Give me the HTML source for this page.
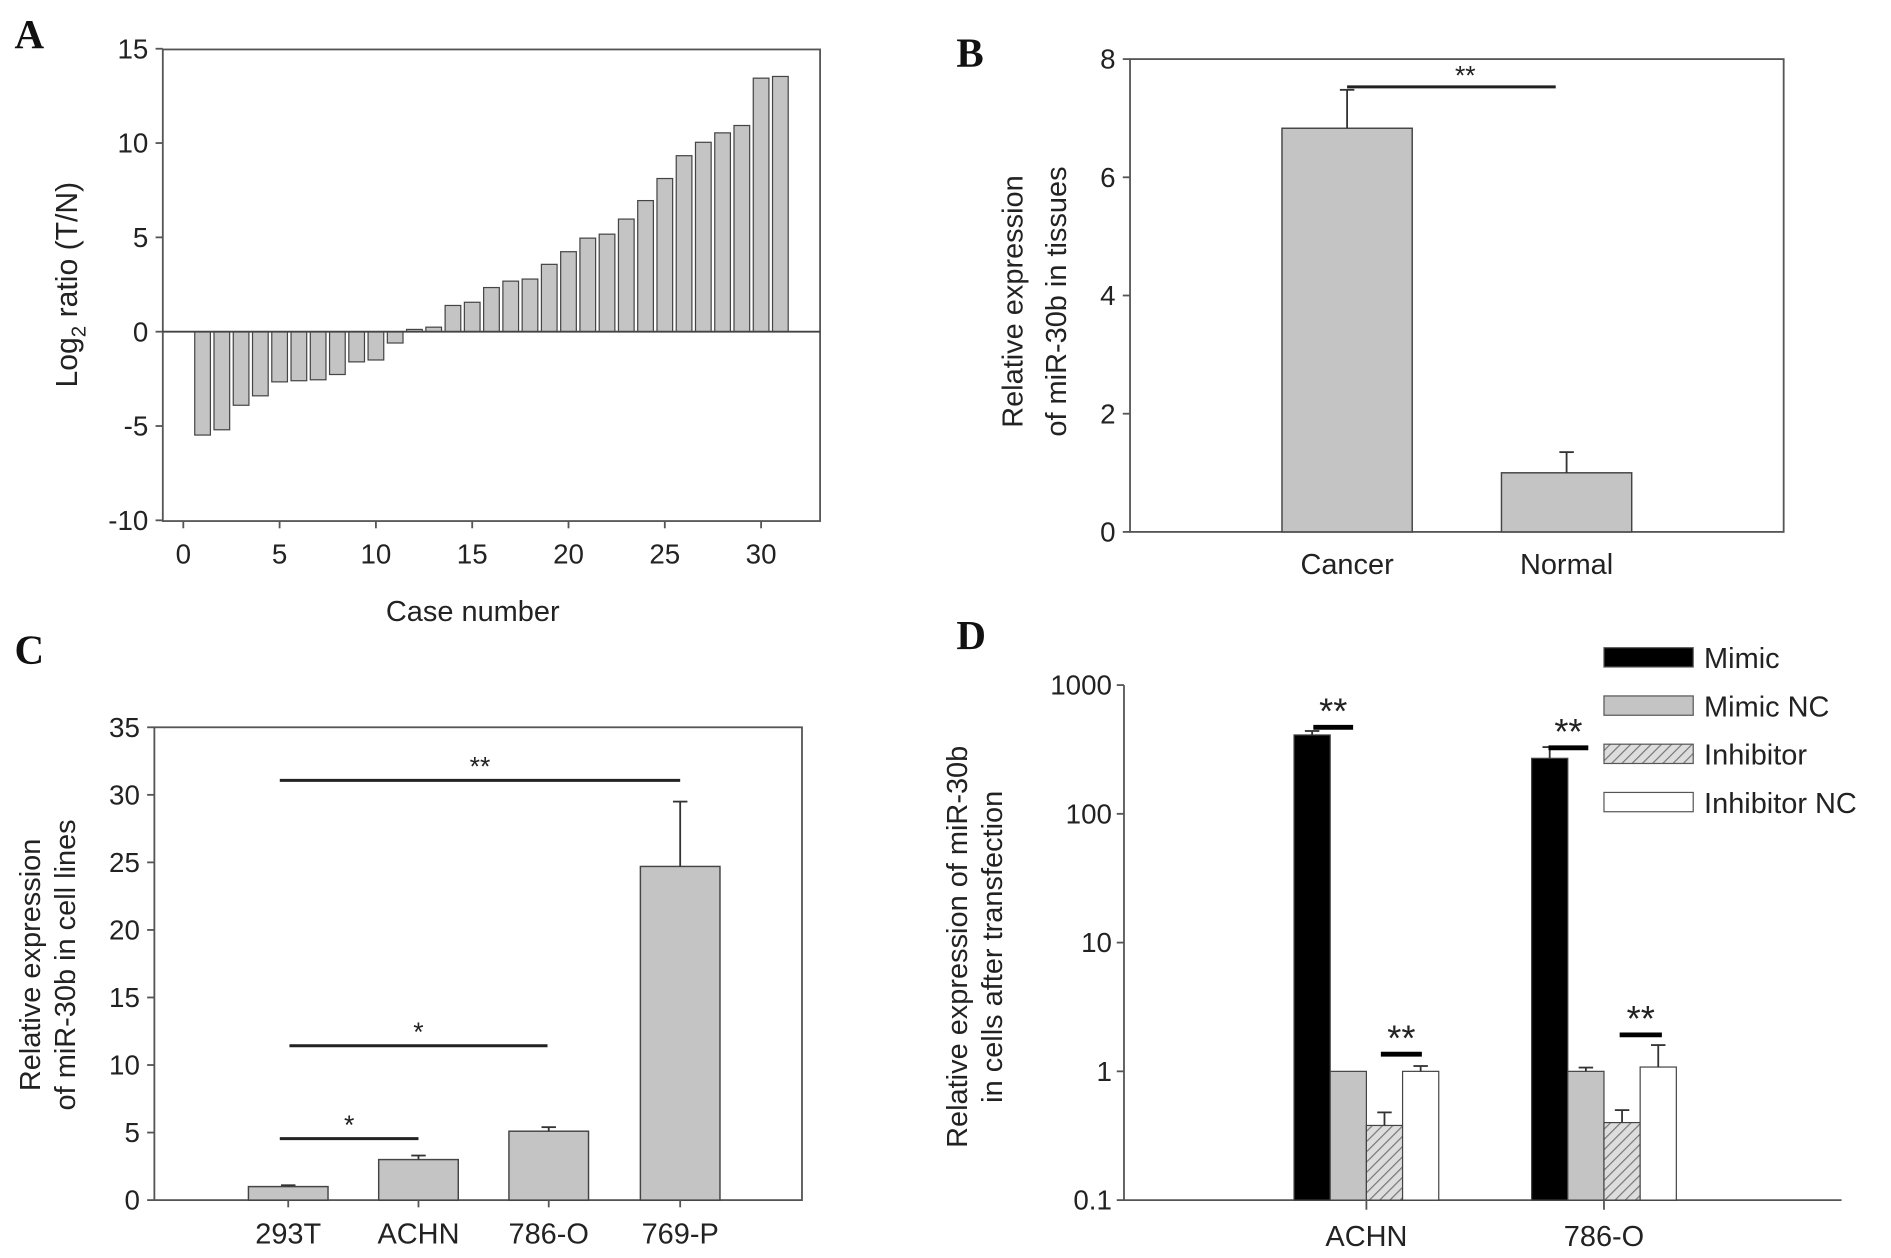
<!DOCTYPE html>
<html><head><meta charset="utf-8"><style>
html,body{margin:0;padding:0;background:#fff}
svg{display:block}
text{font-family:"Liberation Sans",Arial,sans-serif;fill:#222}
.lbl{font-family:"Liberation Serif",serif;font-weight:bold;fill:#111}
</style></head><body>
<svg id="fig" width="1891" height="1258" viewBox="0 0 1568 1043" preserveAspectRatio="none" xmlns="http://www.w3.org/2000/svg">
<defs>
<pattern id="hatch" width="6" height="6" patternUnits="userSpaceOnUse" patternTransform="rotate(45)">
<rect width="6" height="6" fill="#ddd"/><line x1="0" y1="0" x2="0" y2="6" stroke="#777" stroke-width="2"/>
</pattern>
</defs>
<text class="lbl" x="12" y="40" font-size="34">A</text>
<text class="lbl" x="793" y="55" font-size="34">B</text>
<text class="lbl" x="12" y="550" font-size="34">C</text>
<text class="lbl" x="793" y="538" font-size="34">D</text>
<g id="A"></g>
<g id="B"></g>
<g id="C"></g>
<g id="D"></g>
</svg>
<script>
// Panel A data
const aValues = [-5.48,-5.2,-3.9,-3.4,-2.66,-2.6,-2.55,-2.27,-1.6,-1.5,-0.6,0.12,0.24,1.39,1.56,2.34,2.68,2.79,3.57,4.24,4.96,5.17,5.97,6.95,8.12,9.33,10.04,10.54,10.93,13.44,13.53];
const aYTicks = [15,10,5,0,-5,-10];
const aXTicks = [0,5,10,15,20,25,30];
// Panel B data
const bCategories = ['Cancer','Normal'];
const bValues = [6.83,1.0];
const bErrors = [0.65,0.35];
const bYTicks = [0,2,4,6,8];
// Panel C data
const cCategories = ['293T','ACHN','786-O','769-P'];
const cValues = [1.0,3.0,5.1,24.7];
const cErrors = [0.1,0.3,0.3,4.8];
const cYTicks = [0,5,10,15,20,25,30,35];
// Panel D data
const dGroups = ['ACHN','786-O'];
const dSeries = ['Mimic','Mimic NC','Inhibitor','Inhibitor NC'];
const dMimic = [410,270];
const dMimicNC = [1.0,1.0];
const dInhibitor = [0.38,0.40];
const dInhibitorNC = [1.0,1.08];
const dMimicErr = [440,330];
const dMimicNCErr = [1.0,1.07];
const dInhibitorErr = [0.48,0.5];
const dInhibitorNCErr = [1.1,1.6];
const dYTicks = [0.1,1,10,100,1000];

const NS='http://www.w3.org/2000/svg';
function add(parent, tag, attrs, name, inter){
  const el=document.createElementNS(NS,tag);
  for(const k in attrs) el.setAttribute(k,attrs[k]);
  
  
  parent.appendChild(el); return el;
}
function txt(parent,x,y,s,size,anchor,name,extra){
  const t=add(parent,'text',Object.assign({x:x,y:y,'font-size':size,'text-anchor':anchor||'middle'},extra||{}),name,false);
  t.textContent=s; return t;
}
function errbar(g,x,y1,y2,name){
  add(g,'line',{x1:x,y1:y1,x2:x,y2:y2,stroke:'#333','stroke-width':1.5},name);
  add(g,'line',{x1:x-6,y1:y2,x2:x+6,y2:y2,stroke:'#333','stroke-width':1.5},name+'-cap');
}
const ax='#555';
// ===== Panel A
(function(){
  const g=document.getElementById('A');
  const L=135,R=680,T=41,B=432;
  const y=v=>275-(v)*15.64;
  const x=v=>152+v*15.97;
  add(g,'rect',{x:L,y:T,width:R-L,height:B-T,fill:'none',stroke:ax,'stroke-width':1.5},'plot-frame');
  aYTicks.forEach(v=>{
    add(g,'line',{x1:L-6,y1:y(v),x2:L,y2:y(v),stroke:ax,'stroke-width':1.5},'y-tick');
    txt(g,L-12,y(v)+8,String(v),23,'end','y-tick-label');
  });
  aXTicks.forEach(v=>{
    add(g,'line',{x1:x(v),y1:B,x2:x(v),y2:B+6,stroke:ax,'stroke-width':1.5},'x-tick');
    txt(g,x(v),B+35,String(v),23,'middle','x-tick-label');
  });
  aValues.forEach((v,i)=>{
    const cx=x(i+1), top=Math.min(y(v),y(0)), h=Math.abs(y(v)-y(0));
    add(g,'rect',{x:cx-6.5,y:top,width:13,height:Math.max(h,1),fill:'#c4c4c4',stroke:'#444','stroke-width':1},'bar-case-'+(i+1));
  });
  add(g,'line',{x1:L,y1:y(0),x2:R,y2:y(0),stroke:'#444','stroke-width':1.5},'zero-line');
  txt(g,392,515,'Case number',24,'middle','x-axis-title');
  const t=txt(g,0,0,'',25,'middle','y-axis-title',{transform:'translate(64,236) rotate(-90)'});
  t.innerHTML='Log<tspan font-size="17" dy="7">2</tspan><tspan dy="-7"> ratio (T/N)</tspan>';
})();
// ===== Panel B
(function(){
  const g=document.getElementById('B');
  const L=937,R=1479,T=49,B=441;
  const y=v=>B-v*49;
  const xs=[1117,1299];
  add(g,'rect',{x:L,y:T,width:R-L,height:B-T,fill:'none',stroke:ax,'stroke-width':1.5},'plot-frame');
  bYTicks.forEach(v=>{
    add(g,'line',{x1:L-6,y1:y(v),x2:L,y2:y(v),stroke:ax,'stroke-width':1.5},'y-tick');
    txt(g,L-12,y(v)+8,String(v),23,'end','y-tick-label');
  });
  bCategories.forEach((c,i)=>{
    add(g,'rect',{x:xs[i]-54,y:y(bValues[i]),width:108,height:y(0)-y(bValues[i]),fill:'#c4c4c4',stroke:'#444','stroke-width':1.2},'bar-'+c.toLowerCase());
    errbar(g,xs[i],y(bValues[i]),y(bValues[i]+bErrors[i]),'error-bar-'+c.toLowerCase());
    txt(g,xs[i],476,c,24,'middle','x-tick-label');
  });
  add(g,'line',{x1:1117,y1:72,x2:1290,y2:72,stroke:'#222','stroke-width':2.5},'significance-line');
  txt(g,1215,70,'**',22,'middle','significance-marker');
  txt(g,0,0,'Relative expression',24,'middle','y-axis-title-line1',{transform:'translate(848,250) rotate(-90)'});
  txt(g,0,0,'of miR-30b in tissues',24,'middle','y-axis-title-line2',{transform:'translate(884,250) rotate(-90)'});
})();
// ===== Panel C
(function(){
  const g=document.getElementById('C');
  const L=128,R=665,T=603,B=995;
  const y=v=>B-v*11.2;
  const xs=[239,347,455,564];
  add(g,'rect',{x:L,y:T,width:R-L,height:B-T,fill:'none',stroke:ax,'stroke-width':1.5},'plot-frame');
  cYTicks.forEach(v=>{
    add(g,'line',{x1:L-6,y1:y(v),x2:L,y2:y(v),stroke:ax,'stroke-width':1.5},'y-tick');
    txt(g,L-12,y(v)+8,String(v),23,'end','y-tick-label');
  });
  cCategories.forEach((c,i)=>{
    add(g,'rect',{x:xs[i]-33,y:y(cValues[i]),width:66,height:y(0)-y(cValues[i]),fill:'#c4c4c4',stroke:'#444','stroke-width':1.2},'bar-'+c.toLowerCase());
    errbar(g,xs[i],y(cValues[i]),y(cValues[i]+cErrors[i]),'error-bar-'+c.toLowerCase());
    add(g,'line',{x1:xs[i],y1:B,x2:xs[i],y2:B+6,stroke:ax,'stroke-width':1.5},'x-tick');
    txt(g,xs[i],1031,c,24,'middle','x-tick-label');
  });
  [[232,564,647,'**'],[240,454,867,'*'],[232,347,944,'*']].forEach((s,i)=>{
    add(g,'line',{x1:s[0],y1:s[2],x2:s[1],y2:s[2],stroke:'#222','stroke-width':2.5},'significance-line');
    txt(g,(s[0]+s[1])/2,s[2]-4,s[3],22,'middle','significance-marker');
  });
  txt(g,0,0,'Relative expression',24,'middle','y-axis-title-line1',{transform:'translate(33,800) rotate(-90)'});
  txt(g,0,0,'of miR-30b in cell lines',24,'middle','y-axis-title-line2',{transform:'translate(62,800) rotate(-90)'});
})();
// ===== Panel D
(function(){
  const g=document.getElementById('D');
  const L=932,R=1527,T=568,B=995;
  const y=v=>B-(Math.log10(v)+1)*106.75;
  const centers=[1133,1330];
  const fills=['#000','#c4c4c4','url(#hatch)','#fff'];
  const vals=[dMimic,dMimicNC,dInhibitor,dInhibitorNC];
  const errs=[dMimicErr,dMimicNCErr,dInhibitorErr,dInhibitorNCErr];
  add(g,'line',{x1:L,y1:T,x2:L,y2:B,stroke:ax,'stroke-width':1.5},'y-axis');
  add(g,'line',{x1:L,y1:B,x2:R,y2:B,stroke:ax,'stroke-width':1.5},'x-axis');
  dYTicks.forEach(v=>{
    add(g,'line',{x1:L-6,y1:y(v),x2:L,y2:y(v),stroke:ax,'stroke-width':1.5},'y-tick');
    txt(g,L-10,y(v)+8,String(v),23,'end','y-tick-label');
  });
  dGroups.forEach((gr,gi)=>{
    const c=centers[gi];
    dSeries.forEach((s,si)=>{
      const x0=c-60+si*30, v=vals[si][gi];
      add(g,'rect',{x:x0,y:y(v),width:30,height:B-y(v),fill:fills[si],stroke:'#444','stroke-width':1},'bar-'+gr.toLowerCase()+'-'+s.toLowerCase().replace(' ','-'));
      if(errs[si][gi]>v) errbar(g,x0+15,y(v),y(errs[si][gi]),'error-bar');
    });
    add(g,'line',{x1:c,y1:B,x2:c,y2:B+8,stroke:ax,'stroke-width':1.5},'x-tick');
    txt(g,c,1033,gr,24,'middle','x-tick-label');
  });
  [[1089,1122,603],[1284,1317,620],[1145,1179,874],[1343,1378,858]].forEach(s=>{
    add(g,'line',{x1:s[0],y1:s[2],x2:s[1],y2:s[2],stroke:'#000','stroke-width':4},'significance-line');
    txt(g,(s[0]+s[1])/2,s[2]-3,'**',30,'middle','significance-marker');
  });
  dSeries.forEach((s,i)=>{
    const yy=545+i*40;
    add(g,'rect',{x:1330,y:yy-8,width:74,height:16,fill:fills[i],stroke:'#555','stroke-width':1},'legend-swatch-'+s.toLowerCase().replace(' ','-'));
    txt(g,1413,yy+9,s,24,'start','legend-entry-'+s.toLowerCase().replace(' ','-'));
  });
  txt(g,0,0,'Relative expression of miR-30b',24,'middle','y-axis-title-line1',{transform:'translate(802,785) rotate(-90)'});
  txt(g,0,0,'in cells after transfection',24,'middle','y-axis-title-line2',{transform:'translate(831,785) rotate(-90)'});
})();
</script>
</body></html>
